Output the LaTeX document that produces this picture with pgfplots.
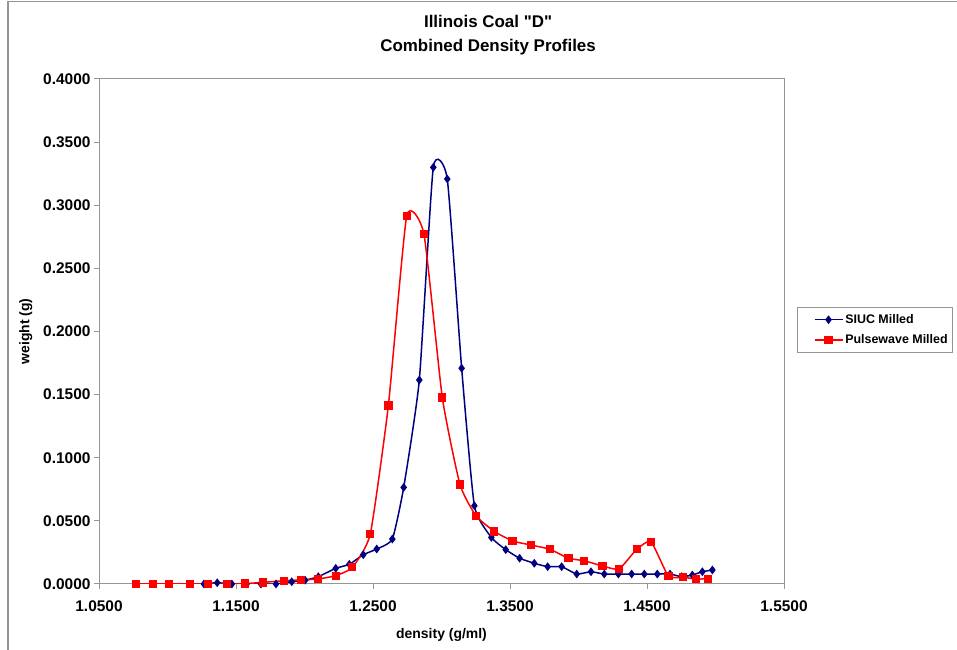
\documentclass[border=0pt]{standalone}
\usepackage{pgfplots}
\pgfplotsset{compat=1.18}
\usepackage{fontspec}
\setmainfont{Liberation Sans}[Ligatures=TeXOff]
\definecolor{siuc}{RGB}{0,0,128}
\definecolor{pulse}{RGB}{255,0,0}
\definecolor{frame}{RGB}{150,150,150}

\begin{document}
\begin{tikzpicture}[x=1bp,y=1bp]
  \useasboundingbox (0,0) rectangle (957,650);
  % chart border (left and top only visible)
  \draw[frame, line width=1.5bp] (8,0) -- (8,648.5) -- (957,648.5);
  \begin{axis}[
      at={(99bp,66bp)}, anchor=south west,
      scale only axis,
      width=685bp, height=505bp,
      xmin=1.05, xmax=1.55,
      ymin=0, ymax=0.4,
      xtick={1.05,1.15,...,1.56},
      ytick={0,0.05,...,0.41},
      xtick pos=bottom, ytick pos=left,
      tick align=outside,
      major tick length=5bp,
      axis line style={frame, line width=1bp},
      every tick/.style={frame, line width=1bp},
      /pgf/number format/assume math mode=true,
      /pgf/number format/.cd, fixed, fixed zerofill, precision=4, /tikz/.cd,
      scaled ticks=false,
      tick label style={font=\fontsize{15.5}{17}\selectfont\bfseries},
      xticklabel style={yshift=-8bp},
      title={Illinois Coal "D"\\Combined Density Profiles},
      title style={font=\fontsize{17}{25}\selectfont\bfseries, align=center,
        at={(0.568,1)}, yshift=14bp},
      xlabel={density (g/ml)},
      ylabel={weight (g)},
      label style={font=\fontsize{14}{16}\selectfont\bfseries},
      xlabel style={yshift=-10bp},
      ylabel style={yshift=4bp},
      legend style={at={(1.019,0.503)}, anchor=west,
        font=\fontsize{12.5}{14}\selectfont\bfseries,
        draw=frame, line width=1bp, inner xsep=3bp, inner ysep=5bp,
        row sep=6bp},
      legend image code/.code={
        \path[draw=none, fill=none] (0bp,0bp) -- (4bp,0bp);
        \draw[mark repeat=2, mark phase=2, #1]
          plot coordinates {(14bp,0bp) (28bp,0bp) (42bp,0bp)};},
      legend cell align=left,
    ]
    \addplot[siuc, line width=1.5bp, smooth, tension=0.3,
      mark=diamond*, mark size=3.2bp, mark options={solid, fill=siuc}]
      coordinates {
      (1.1266,0.0000) (1.1363,0.0010) (1.1470,0.0000) (1.1578,0.0000)
      (1.1682,0.0000) (1.1792,0.0000) (1.1907,0.0018) (1.2005,0.0030)
      (1.2101,0.0058) (1.2228,0.0124) (1.2327,0.0156) (1.2429,0.0232)
      (1.2527,0.0277) (1.2641,0.0356) (1.2724,0.0765) (1.2838,0.1616)
      (1.2940,0.3300) (1.3042,0.3208) (1.3147,0.1709) (1.3240,0.0620)
      (1.3364,0.0369) (1.3469,0.0272) (1.3570,0.0204) (1.3677,0.0164)
      (1.3775,0.0137) (1.3877,0.0137) (1.3987,0.0079) (1.4091,0.0097)
      (1.4188,0.0079) (1.4291,0.0079) (1.4388,0.0079) (1.4480,0.0079)
      (1.4575,0.0079) (1.4668,0.0079) (1.4753,0.0058) (1.4831,0.0071)
      (1.4904,0.0097) (1.4977,0.0111)
    };
    \addlegendentry{SIUC Milled}
    \addplot[pulse, line width=1.5bp, smooth, tension=0.3,
      mark=square*, mark size=3.4bp, mark options={solid, fill=pulse}]
      coordinates {
      (1.0770,0.0000) (1.0892,0.0000) (1.1013,0.0000) (1.1164,0.0000)
      (1.1298,0.0000) (1.1432,0.0000) (1.1566,0.0003) (1.1699,0.0013)
      (1.1850,0.0026) (1.1974,0.0032) (1.2100,0.0040) (1.2228,0.0066)
      (1.2349,0.0132) (1.2480,0.0395) (1.2612,0.1413) (1.2746,0.2915)
      (1.2872,0.2770) (1.3006,0.1476) (1.3135,0.0787) (1.3252,0.0540)
      (1.3385,0.0417) (1.3518,0.0341) (1.3651,0.0309) (1.3792,0.0275)
      (1.3926,0.0204) (1.4042,0.0184) (1.4174,0.0143) (1.4296,0.0119)
      (1.4425,0.0275) (1.4529,0.0335) (1.4656,0.0063) (1.4765,0.0053)
      (1.4856,0.0040) (1.4944,0.0040)
    };
    \addlegendentry{Pulsewave Milled}
  \end{axis}
\end{tikzpicture}
\end{document}
